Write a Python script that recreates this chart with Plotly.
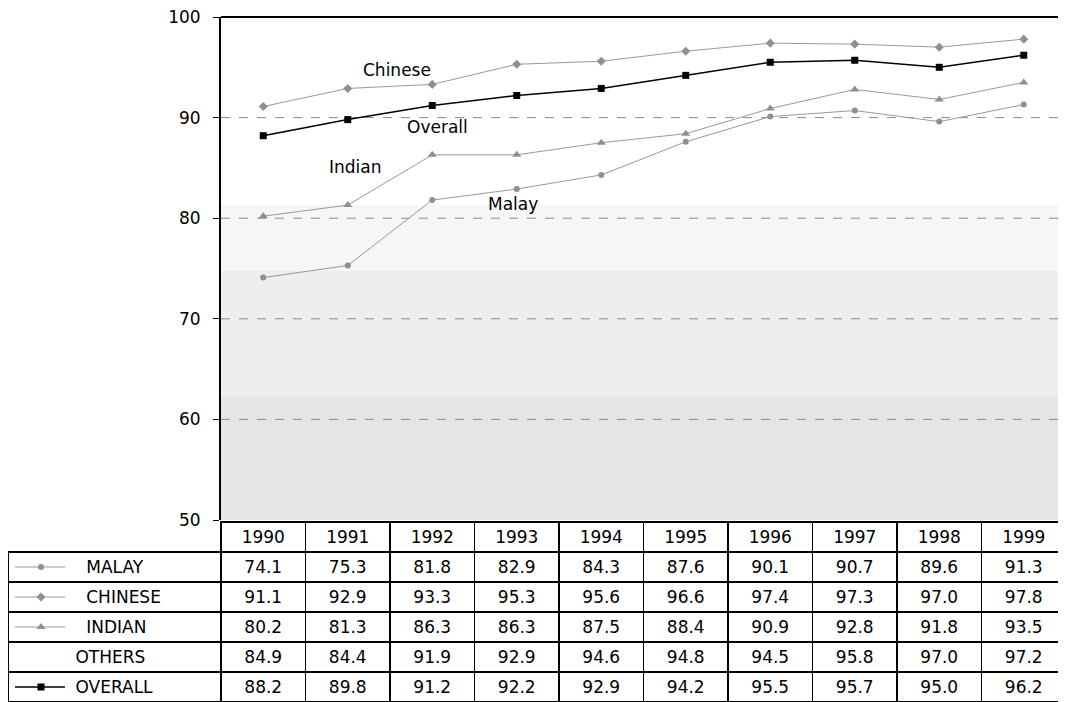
import plotly.graph_objects as go

years = [1990, 1991, 1992, 1993, 1994, 1995, 1996, 1997, 1998, 1999]
malay = [74.1, 75.3, 81.8, 82.9, 84.3, 87.6, 90.1, 90.7, 89.6, 91.3]
chinese = [91.1, 92.9, 93.3, 95.3, 95.6, 96.6, 97.4, 97.3, 97.0, 97.8]
indian = [80.2, 81.3, 86.3, 86.3, 87.5, 88.4, 90.9, 92.8, 91.8, 93.5]
others = [84.9, 84.4, 91.9, 92.9, 94.6, 94.8, 94.5, 95.8, 97.0, 97.2]
overall = [88.2, 89.8, 91.2, 92.2, 92.9, 94.2, 95.5, 95.7, 95.0, 96.2]
row_names = ["MALAY", "CHINESE", "INDIAN", "OTHERS", "OVERALL"]
yticks = [50, 60, 70, 80, 90, 100]

# page has an 8px body margin, so the figure is sized to fill the rest
W, H = 1058, 694
FONT = "DejaVu Sans, Liberation Sans, Arial, sans-serif"
GRAY = "#8f8f8f"
LINEGRAY = "#999999"

PLOT_L, PLOT_T, PLOT_B = 213, 9, 512
TABLE_T = 514
ROW_H = 30
HEAD_H = 30
LABEL_W = 213

x0 = PLOT_L / W
y_bot = (H - PLOT_B) / H
y_top = (H - PLOT_T) / H

fig = go.Figure()

# background bands
bands = [(50, 62.3, "#e5e5e5"), (62.3, 74.8, "#eeeeee"), (74.8, 81.3, "#f6f6f6")]
for lo, hi, c in bands:
    fig.add_shape(type="rect", xref="paper", yref="y", x0=x0, x1=1, y0=lo, y1=hi,
                  fillcolor=c, line_width=0, layer="below")

for g in [60, 70, 80, 90]:
    fig.add_shape(type="line", xref="paper", yref="y", x0=x0, x1=1, y0=g, y1=g,
                  line=dict(color="#8a8a8a", width=1, dash="dash"), layer="below")

# top border
fig.add_shape(type="line", xref="paper", yref="paper", x0=x0, x1=1, y0=y_top, y1=y_top,
              line=dict(color="black", width=2))

series = [
    ("Malay", malay, GRAY, "circle", 6, 1),
    ("Chinese", chinese, GRAY, "diamond", 7, 1),
    ("Indian", indian, GRAY, "triangle-up", 8, 1),
    ("Overall", overall, "black", "square", 7, 1.5),
]
for name, vals, col, sym, sz, lw in series:
    lc = LINEGRAY if col == GRAY else col
    fig.add_trace(go.Scatter(x=years, y=vals, mode="lines+markers", name=name,
                             line=dict(color=lc, width=lw),
                             marker=dict(symbol=sym, size=sz, color=col),
                             xaxis="x", yaxis="y", showlegend=False, cliponaxis=False))

labels = [("Chinese", 1991.58, 94.7), ("Overall", 1992.06, 89.1),
          ("Indian", 1991.09, 85.1), ("Malay", 1992.96, 81.4)]
for t, lx, ly in labels:
    fig.add_annotation(x=lx, y=ly, text=t, showarrow=False, xref="x", yref="y",
                       font=dict(family=FONT, size=17, color="black"))

# table
rows = [malay, chinese, indian, others, overall]
pads = [13, 13, 13, 11, 11]
first_col = ["\u00a0" * p + n for p, n in zip(pads, row_names)]
cols = [first_col]
for i in range(len(years)):
    cols.append([f"{r[i]:.1f}" for r in rows])

CLEAR = "rgba(0,0,0,0)"
fig.add_trace(go.Table(
    domain=dict(x=[0, 1], y=[0, (H - TABLE_T) / H]),
    columnwidth=[LABEL_W] + [84.5] * 10,
    header=dict(values=[""] + [str(y) for y in years],
                fill_color=[CLEAR] + ["white"] * 10,
                line=dict(color=[CLEAR] + ["black"] * 10, width=1.5),
                align="center", height=HEAD_H,
                font=dict(family=FONT, size=17, color="black")),
    cells=dict(values=cols, fill_color=[CLEAR] + ["white"] * 10,
               line=dict(color="black", width=1.5),
               align=["left"] + ["center"] * 10, height=ROW_H,
               font=dict(family=FONT, size=17, color="black")),
))

# legend icons inside the first table column
icon_styles = [
    (GRAY, "circle", 6),
    (GRAY, "diamond", 7),
    (GRAY, "triangle-up", 8),
    None,
    ("black", "square", 7),
]
for i, st in enumerate(icon_styles):
    if st is None:
        continue
    col, sym, sz = st
    cy = i * ROW_H + ROW_H / 2
    fig.add_trace(go.Scatter(x=[7, 57], y=[cy, cy], mode="lines",
                             line=dict(color=LINEGRAY if col == GRAY else col,
                                       width=1.5 if col == "black" else 1),
                             xaxis="x2", yaxis="y2", showlegend=False, hoverinfo="skip"))
    fig.add_trace(go.Scatter(x=[33], y=[cy], mode="markers",
                             marker=dict(symbol=sym, size=sz, color=col),
                             xaxis="x2", yaxis="y2", showlegend=False, hoverinfo="skip"))

body_h = H - TABLE_T - HEAD_H
fig.update_layout(
    width=W, height=H,
    margin=dict(l=0, r=0, t=0, b=0, autoexpand=False),
    paper_bgcolor="white", plot_bgcolor="rgba(0,0,0,0)",
    xaxis=dict(domain=[x0, 1], range=[1989.5, 1999.5], showticklabels=False,
               showgrid=False, zeroline=False, showline=False, ticks="",
               automargin=False),
    yaxis=dict(domain=[y_bot, y_top], range=[50, 100], tickvals=yticks,
               showgrid=False, zeroline=False, showline=True, linecolor="black",
               linewidth=2, ticks="outside", ticklen=6, tickcolor="black",
               ticklabelstandoff=9, automargin=False, ticklabeloverflow="allow",
               tickfont=dict(family=FONT, size=17, color="black")),
    xaxis2=dict(domain=[0, LABEL_W / W], range=[0, LABEL_W], visible=False,
                automargin=False),
    yaxis2=dict(domain=[0, body_h / H], range=[body_h, 0], visible=False,
                automargin=False),
)

fig.write_html("out.html")
